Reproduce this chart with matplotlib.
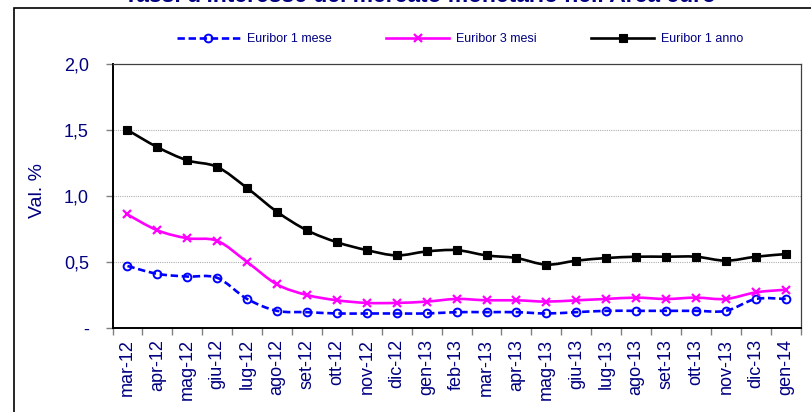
import matplotlib
matplotlib.use("Agg")
import matplotlib.pyplot as plt
import numpy as np
from matplotlib.path import Path
from matplotlib.patches import PathPatch, Rectangle
from matplotlib.lines import Line2D

months = ["mar-12", "apr-12", "mag-12", "giu-12", "lug-12", "ago-12", "set-12",
          "ott-12", "nov-12", "dic-12", "gen-13", "feb-13", "mar-13", "apr-13",
          "mag-13", "giu-13", "lug-13", "ago-13", "set-13", "ott-13", "nov-13",
          "dic-13", "gen-14"]
euribor_1m = [0.47, 0.41, 0.39, 0.38, 0.22, 0.13, 0.12, 0.11, 0.11, 0.11, 0.11, 0.12,
              0.12, 0.12, 0.11, 0.12, 0.13, 0.13, 0.13, 0.13, 0.13, 0.22, 0.22]
euribor_3m = [0.86, 0.74, 0.68, 0.66, 0.50, 0.33, 0.25, 0.21, 0.19, 0.19, 0.20, 0.22,
              0.21, 0.21, 0.20, 0.21, 0.22, 0.23, 0.22, 0.23, 0.22, 0.27, 0.29]
euribor_12m = [1.50, 1.37, 1.27, 1.22, 1.06, 0.88, 0.74, 0.65, 0.59, 0.55, 0.58, 0.59,
               0.55, 0.53, 0.48, 0.51, 0.53, 0.54, 0.54, 0.54, 0.51, 0.54, 0.56]
y_ticks = [0.0, 0.5, 1.0, 1.5, 2.0]
y_ticklabels = ["-", "0,5", "1,0", "1,5", "2,0"]

title = "Tassi d'interesse del mercato monetario nell'Area euro"
ylabel = "Val. %"
labels = ["Euribor 1 mese", "Euribor 3 mesi", "Euribor 1 anno"]

NAVY = "#000080"
FONT = "Liberation Sans"
plt.rcParams["font.family"] = [FONT, "DejaVu Sans"]

W, H = 811, 412
fig = plt.figure(figsize=(W / 100, H / 100), dpi=100)

# plot area in pixel terms
left_px, right_px, top_px, bottom_px = 112.5, 800.7, 64.0, 328.0
ax = fig.add_axes([left_px / W, (H - bottom_px) / H,
                   (right_px - left_px) / W, (bottom_px - top_px) / H])


def smooth_path(xs, ys):
    """Cubic Bezier path through the points (Catmull-Rom style smoothing)."""
    p = np.column_stack([xs, ys]).astype(float)
    n = len(p)
    verts = [p[0]]
    codes = [Path.MOVETO]
    for i in range(n - 1):
        p0 = p[i - 1] if i > 0 else p[i]
        p1 = p[i]
        p2 = p[i + 1]
        p3 = p[i + 2] if i + 2 < n else p[i + 1]
        c1 = p1 + (p2 - p0) / 6.0
        c2 = p2 - (p3 - p1) / 6.0
        verts += [c1, c2, p2]
        codes += [Path.CURVE4, Path.CURVE4, Path.CURVE4]
    return Path(np.array(verts), codes)


x = np.arange(len(months))

series = [
    (euribor_1m, "#0000FF", (0, (2.8, 1.4)), "o",
     dict(markersize=5.6, markerfacecolor="none", markeredgewidth=1.4)),
    (euribor_3m, "#FF00FF", "solid", "x",
     dict(markersize=6.0, markeredgewidth=1.6)),
    (euribor_12m, "#000000", "solid", "s",
     dict(markersize=6.4, markerfacecolor="#000000", markeredgewidth=0.8)),
]

handles = []
for vals, color, ls, marker, mk in series:
    patch = PathPatch(smooth_path(x, vals), facecolor="none", edgecolor=color,
                      linewidth=1.9, linestyle=ls, zorder=3, capstyle="butt")
    ax.add_patch(patch)
    ax.plot(x, vals, linestyle="none", marker=marker, color=color, zorder=4, **mk)
    handles.append(Line2D([], [], color=color, linewidth=1.9, linestyle=ls,
                          marker=marker, **mk))

ax.set_xlim(-0.5, len(months) - 0.5)
ax.set_ylim(0, 2.0)

# y axis
ax.set_yticks(y_ticks)
ax.set_yticklabels(y_ticklabels, color=NAVY, fontsize=13, fontfamily=FONT)
ax.tick_params(axis="y", direction="out", length=5, width=1, color="#808080", pad=12)
for v in y_ticks[1:-1]:
    ax.axhline(v, color="#b0b0b0", linewidth=0.8, linestyle=(0, (1, 1)), zorder=1)

# y label placed in figure pixels
fig.text(38 / W, (H - 190) / H, ylabel, rotation=90, ha="center", va="center",
         color=NAVY, fontsize=14, fontfamily=FONT)

# x axis: labels at categories, tick marks between categories
ax.set_xticks(x)
ax.set_xticklabels(months, rotation=90, color=NAVY, fontsize=13, fontfamily=FONT)
ax.tick_params(axis="x", which="major", length=0, pad=8)
ax.set_xticks(np.arange(len(months) + 1) - 0.5, minor=True)
ax.tick_params(axis="x", which="minor", direction="out", length=5, width=1,
               color="#808080")

for side in ("top", "right"):
    ax.spines[side].set_color("#404040")
    ax.spines[side].set_linewidth(0.9)
for side in ("left", "bottom"):
    ax.spines[side].set_color("#000000")
    ax.spines[side].set_linewidth(1.4)

# legend above the plot area
leg = fig.legend(handles, labels, loc="center", ncol=3, frameon=False,
                 bbox_to_anchor=(460 / W, (H - 39) / H),
                 handlelength=5.0, handletextpad=0.55, columnspacing=4.4,
                 prop={"family": FONT, "size": 9})
for t in leg.get_texts():
    t.set_color(NAVY)

# chart frame
fig.patches.append(Rectangle((14 / W, -0.1), 2.0, (H - 8) / H + 0.1,
                             transform=fig.transFigure, fill=False,
                             edgecolor="#000000", linewidth=1.2))

# title (sits at the very top edge, above the frame)
fig.text(420 / W, (H - 2.5) / H, title, ha="center", va="baseline",
         color=NAVY, fontsize=16.5, fontweight="bold", fontfamily=FONT)

fig.savefig("out.png", dpi=100)
